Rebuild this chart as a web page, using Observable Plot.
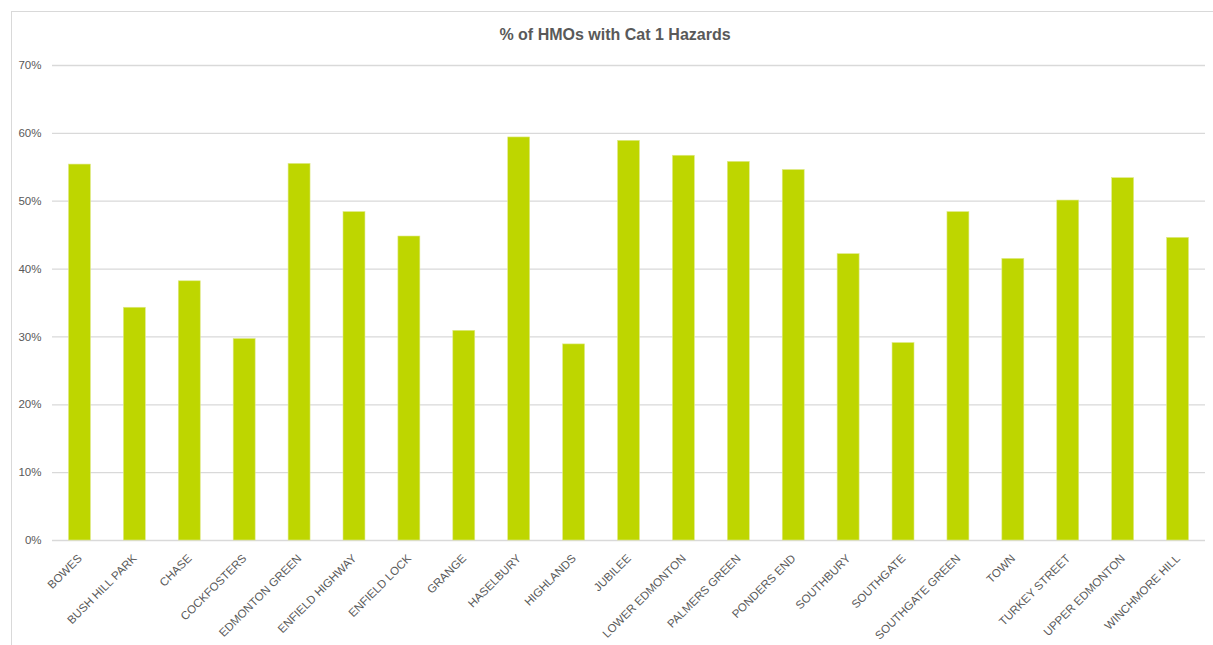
<!DOCTYPE html>
<html>
<head>
<meta charset="utf-8">
<script src="https://cdn.jsdelivr.net/npm/d3@7"></script>
<script src="https://cdn.jsdelivr.net/npm/@observablehq/plot@0.6"></script>
<style>
  html, body { margin: 0; padding: 0; background: #fff; }
  #wrap { position: relative; width: 1213px; height: 645px; overflow: hidden; }
  #frame { position: absolute; left: 11px; top: 11px; width: 1220px; height: 700px; border: 1.5px solid #d9d9d9; box-sizing: border-box; }
  #title { position: absolute; left: 0; width: 1230px; top: 26px; text-align: center; font-family: "Liberation Sans Narrow", "Liberation Sans", Arial, sans-serif; font-weight: bold; font-size: 16px; color: #595959; }
  #chart { position: absolute; left: 0; top: 0; }
  #chart svg text { font-family: "Liberation Sans Narrow", "Liberation Sans", Arial, sans-serif; }
</style>
</head>
<body>
<div id="wrap">
  <div id="frame"></div>
  <div id="chart"></div>
  <div id="title">% of HMOs with Cat 1 Hazards</div>
</div>
<script>
const wards = ["BOWES", "BUSH HILL PARK", "CHASE", "COCKFOSTERS", "EDMONTON GREEN", "ENFIELD HIGHWAY", "ENFIELD LOCK", "GRANGE", "HASELBURY", "HIGHLANDS", "JUBILEE", "LOWER EDMONTON", "PALMERS GREEN", "PONDERS END", "SOUTHBURY", "SOUTHGATE", "SOUTHGATE GREEN", "TOWN", "TURKEY STREET", "UPPER EDMONTON", "WINCHMORE HILL"];
const pctHazards = [0.554, 0.343, 0.382, 0.297, 0.555, 0.484, 0.448, 0.309, 0.594, 0.289, 0.589, 0.567, 0.558, 0.546, 0.422, 0.291, 0.484, 0.415, 0.501, 0.534, 0.446];
const yTicks = [0, 0.1, 0.2, 0.3, 0.4, 0.5, 0.6, 0.7];

const data = wards.map((w, i) => ({ward: w, value: pctHazards[i]}));

const chart = Plot.plot({
  width: 1213,
  height: 645,
  marginLeft: 52,
  marginRight: 8,
  marginTop: 65,
  marginBottom: 105,
  x: { domain: wards, paddingInner: 0.6, paddingOuter: 0.3, round: false, label: null },
  y: { domain: [0, 0.7], label: null },
  style: { background: "transparent", color: "#595959" },
  marks: [
    Plot.gridY(yTicks, { stroke: "#d9d9d9", strokeOpacity: 1, strokeWidth: 1.3 }),
    Plot.barY(data, { x: "ward", y: "value", fill: "#bed600", stroke: "#dfe98a", strokeWidth: 0.6 }),
    Plot.axisY(yTicks, { tickFormat: d3.format(".0%"), tickSize: 0, tickPadding: 11, fontSize: 11.5, fill: "#595959", label: null }),
    Plot.axisX({ tickRotate: -45, tickSize: 0, tickPadding: 16, fontSize: 11.5, fill: "#595959", label: null })
  ]
});
document.getElementById("chart").appendChild(chart);
</script>
</body>
</html>
